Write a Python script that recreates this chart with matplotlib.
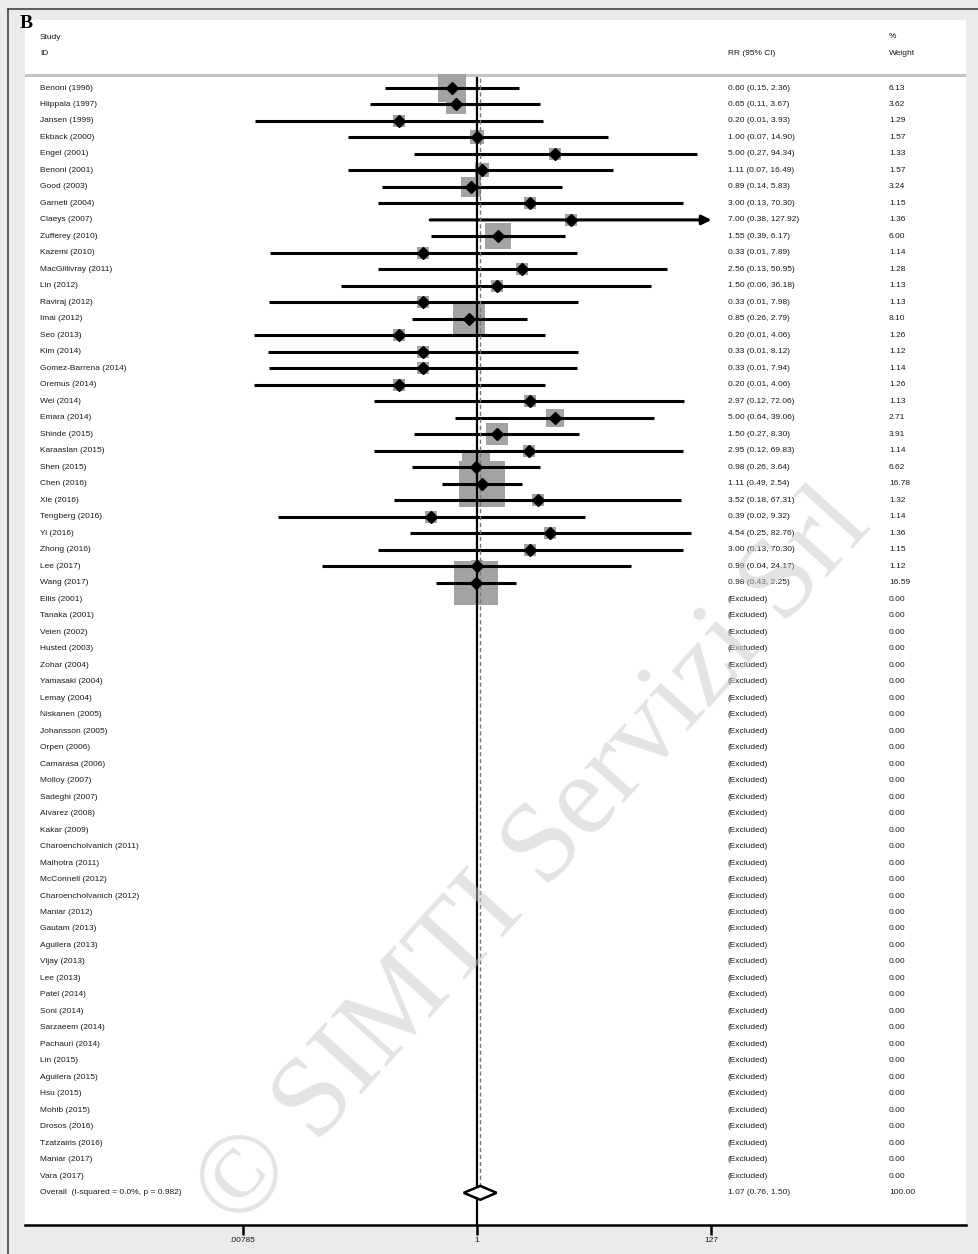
import matplotlib
matplotlib.use("Agg")
import matplotlib.pyplot as plt
import matplotlib.transforms as mtransforms
from matplotlib.patches import Polygon
import numpy as np

plt.rcParams['font.family'] = ['Liberation Sans', 'DejaVu Sans']

# included studies
studies = ['Benoni (1996)', 'Hiippala (1997)', 'Jansen (1999)', 'Ekback (2000)', 'Engel (2001)',
           'Benoni (2001)', 'Good (2003)', 'Garneti (2004)', 'Claeys (2007)', 'Zufferey (2010)',
           'Kazemi (2010)', 'MacGillivray (2011)', 'Lin (2012)', 'Raviraj (2012)', 'Imai (2012)',
           'Seo (2013)', 'Kim (2014)', 'Gomez-Barrena (2014)', 'Oremus (2014)', 'Wei (2014)',
           'Emara (2014)', 'Shinde (2015)', 'Karaaslan (2015)', 'Shen (2015)', 'Chen (2016)',
           'Xie (2016)', 'Tengberg (2016)', 'Yi (2016)', 'Zhong (2016)', 'Lee (2017)', 'Wang (2017)']
rr = [0.60, 0.65, 0.20, 1.00, 5.00, 1.11, 0.89, 3.00, 7.00, 1.55, 0.33, 2.56, 1.50, 0.33, 0.85,
      0.20, 0.33, 0.33, 0.20, 2.97, 5.00, 1.50, 2.95, 0.98, 1.11, 3.52, 0.39, 4.54, 3.00, 0.99, 0.98]
ci_lo = [0.15, 0.11, 0.0102, 0.07, 0.27, 0.07, 0.14, 0.13, 0.38, 0.39, 0.0138, 0.13, 0.06, 0.0136, 0.26,
         0.0099, 0.0134, 0.0137, 0.0099, 0.12, 0.64, 0.27, 0.12, 0.26, 0.49, 0.18, 0.0163, 0.25, 0.13, 0.0406, 0.43]
ci_hi = [2.36, 3.67, 3.93, 14.90, 94.34, 16.49, 5.83, 70.30, 127.92, 6.17, 7.89, 50.95, 36.18, 7.98, 2.79,
         4.06, 8.12, 7.94, 4.06, 72.06, 39.06, 8.30, 69.83, 3.64, 2.54, 67.31, 9.32, 82.76, 70.30, 24.17, 2.25]
weight = [6.13, 3.62, 1.29, 1.57, 1.33, 1.57, 3.24, 1.15, 1.36, 6.00, 1.14, 1.28, 1.13, 1.13, 8.10,
          1.26, 1.12, 1.14, 1.26, 1.13, 2.71, 3.91, 1.14, 6.62, 16.78, 1.32, 1.14, 1.36, 1.15, 1.12, 16.59]

# excluded studies (no events)
excluded = ['Ellis (2001)', 'Tanaka (2001)', 'Veien (2002)', 'Husted (2003)', 'Zohar (2004)',
            'Yamasaki (2004)', 'Lemay (2004)', 'Niskanen (2005)', 'Johansson (2005)', 'Orpen (2006)',
            'Camarasa (2006)', 'Molloy (2007)', 'Sadeghi (2007)', 'Alvarez (2008)', 'Kakar (2009)',
            'Charoencholvanich (2011)', 'Malhotra (2011)', 'McConnell (2012)', 'Charoencholvanich (2012)',
            'Maniar (2012)', 'Gautam (2013)', 'Aguilera (2013)', 'Vijay (2013)', 'Lee (2013)',
            'Patel (2014)', 'Soni (2014)', 'Sarzaeem (2014)', 'Pachauri (2014)', 'Lin (2015)',
            'Aguilera (2015)', 'Hsu (2015)', 'Mohib (2015)', 'Drosos (2016)', 'Tzatzairis (2016)',
            'Maniar (2017)', 'Vara (2017)']

overall_rr, overall_lo, overall_hi = 1.07, 0.76, 1.50
overall_label = 'Overall  (I-squared = 0.0%, p = 0.982)'
xticks = [1 / 127, 1, 127]
xtick_labels = ['.00785', '1', '127']

W, H = 979, 1254
fig = plt.figure(figsize=(W / 100, H / 100), dpi=100, facecolor='#ebebeb')

# white plot region in pixels
left_px, right_px, top_px, bot_px = 25, 966, 20, 1225
ax = fig.add_axes([left_px / W, 1 - bot_px / H, (right_px - left_px) / W, (bot_px - top_px) / H])
ax.set_facecolor('white')

x0_px, px_per_ln = 477, 48.4
row0_px, row_px = 88, 16.49
ax.set_xscale('log')
ax.set_xlim(np.exp((left_px - x0_px) / px_per_ln), np.exp((right_px - x0_px) / px_per_ln))
ax.set_ylim((bot_px - row0_px) / row_px, (top_px - row0_px) / row_px)

trans = mtransforms.blended_transform_factory(fig.transFigure, ax.transData)
fs = 6
tc = '#1a1a1a'

def col(px):
    return px / W

# header
ax.text(col(40), -3.05, 'Study', transform=trans, fontsize=fs, color=tc, va='center')
ax.text(col(40), -2.08, 'ID', transform=trans, fontsize=fs, color=tc, va='center')
ax.text(col(728), -2.1, 'RR (95% CI)', transform=trans, fontsize=fs, color=tc, va='center')
ax.text(col(889), -3.1, '%', transform=trans, fontsize=fs, color=tc, va='center')
ax.text(col(889), -2.1, 'Weight', transform=trans, fontsize=fs, color=tc, va='center')
ax.axhline(-0.8, color='#c4c4c4', lw=2.2)

xmax = 127
n_inc = len(studies)
for i in range(n_inc):
    y = i
    ax.scatter([rr[i]], [y], marker='s', s=62.7 * weight[i], color='#a3a3a3', lw=0, zorder=2)
    if ci_hi[i] > xmax:
        ax.annotate('', xy=(xmax, y), xytext=(ci_lo[i], y),
                    arrowprops=dict(arrowstyle='-|>', lw=2.2, color='black', mutation_scale=14,
                                    shrinkA=0, shrinkB=0), zorder=3)
    else:
        ax.plot([ci_lo[i], ci_hi[i]], [y, y], color='black', lw=2.2, zorder=3, solid_capstyle='butt')
    ax.plot(rr[i], y, marker='D', ms=6, color='black', zorder=4)
    ax.text(col(40), y, studies[i], transform=trans, fontsize=fs, color=tc, va='center')
    ax.text(col(728), y, f'{rr[i]:.2f} ({ci_lo[i]:.2f}, {ci_hi[i]:.2f})', transform=trans,
            fontsize=fs, color=tc, va='center')
    ax.text(col(889), y, f'{weight[i]:.2f}', transform=trans, fontsize=fs, color=tc, va='center')

for j, name in enumerate(excluded):
    y = n_inc + j
    ax.text(col(40), y, name, transform=trans, fontsize=fs, color=tc, va='center')
    ax.text(col(728), y, '(Excluded)', transform=trans, fontsize=fs, color=tc, va='center')
    ax.text(col(889), y, '0.00', transform=trans, fontsize=fs, color=tc, va='center')

y_all = n_inc + len(excluded)
ax.text(col(40), y_all, overall_label, transform=trans, fontsize=fs, color=tc, va='center')
ax.text(col(728), y_all, f'{overall_rr:.2f} ({overall_lo:.2f}, {overall_hi:.2f})', transform=trans,
        fontsize=fs, color=tc, va='center')
ax.text(col(889), y_all, '100.00', transform=trans, fontsize=fs, color=tc, va='center')

# null line and overall effect line
ax.plot([1, 1], [-0.6, ax.get_ylim()[0]], color='black', lw=1.6, zorder=3)
ax.plot([overall_rr, overall_rr], [-0.6, y_all - 0.45], color='#777777', lw=1, ls=(0, (3, 2)), zorder=3)

dia = Polygon([[overall_lo, y_all], [overall_rr, y_all - 0.42], [overall_hi, y_all],
               [overall_rr, y_all + 0.42]], closed=True, facecolor='white', edgecolor='black', lw=1.8, zorder=5)
ax.add_patch(dia)

# axis
for s in ['top', 'left', 'right']:
    ax.spines[s].set_visible(False)
ax.spines['bottom'].set_linewidth(1.8)
ax.set_yticks([])
ax.minorticks_off()
ax.set_xticks(xticks)
ax.set_xticklabels(xtick_labels, fontsize=fs, color=tc)
ax.tick_params(axis='x', which='major', direction='out', length=7, width=1.8, pad=2)
ax.tick_params(axis='x', which='minor', length=0)

# panel letter and frame lines
fig.text(20 / W, 1 - 24 / H, 'B', fontsize=14, fontweight='bold', family='Liberation Serif',
         va='center', ha='left')
fig.add_artist(plt.Line2D([8 / W, 1], [1 - 9 / H, 1 - 9 / H], color='#444444', lw=1.2))
fig.add_artist(plt.Line2D([8 / W, 8 / W], [0, 1 - 9 / H], color='#444444', lw=1.2))

# watermark
fig.text(535 / W, 1 - 860 / H, '\u00a9 SIMTI Servizi Srl', fontsize=83, family='Liberation Serif',
         color='#c8c8c8', alpha=0.5, rotation=48, ha='center', va='center', zorder=10)

fig.savefig('out.png', dpi=100, facecolor=fig.get_facecolor())
